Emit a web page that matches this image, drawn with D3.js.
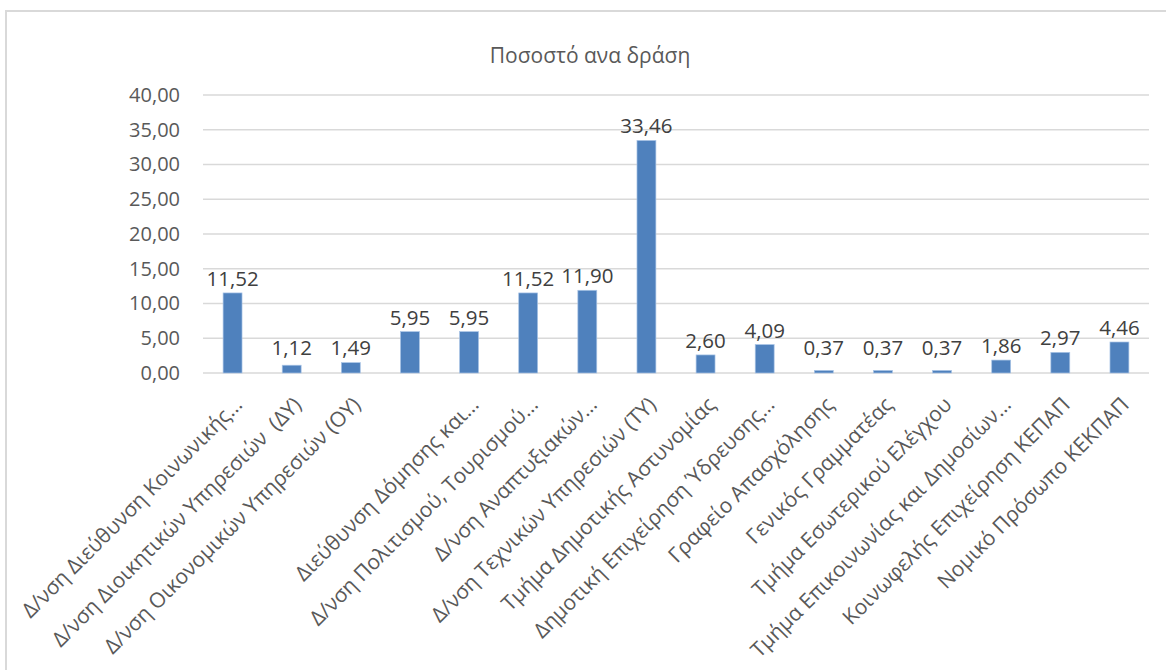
<!DOCTYPE html>
<html>
<head>
<meta charset="utf-8">
<script src="https://cdn.jsdelivr.net/npm/d3@7"></script>
<style>
	body { margin: 0; background: #fff; }
	svg text { font-family: "Open Sans", "Noto Sans", sans-serif; white-space: pre; }
</style>
</head>
<body>
<div class="container"></div>
<script>
// chart data
var title = "Ποσοστό ανα δράση";

var categories = [
	"Δ/νση Διεύθυνση Κοινωνικής…",
	"Δ/νση Διοικητικών Υπηρεσιών  (ΔΥ)",
	"Δ/νση Οικονομικών Υπηρεσιών (ΟΥ)",
	"",
	"Διεύθυνση Δόμησης και…",
	"Δ/νση Πολιτισμού, Τουρισμού…",
	"Δ/νση Αναπτυξιακών…",
	"Δ/νση Τεχνικών Υπηρεσιών (ΤΥ)",
	"Τμήμα Δημοτικής Αστυνομίας",
	"Δημοτική Επιχείρηση Ύδρευσης…",
	"Γραφείο Απασχόλησης",
	"Γενικός Γραμματέας",
	"Τμήμα Εσωτερικού Ελέγχου",
	"Τμήμα Επικοινωνίας και Δημοσίων…",
	"Κοινωφελής Επιχείρηση ΚΕΠΑΠ",
	"Νομικό Πρόσωπο ΚΕΚΠΑΠ"
];

var values = [11.52, 1.12, 1.49, 5.95, 5.95, 11.52, 11.90, 33.46,
	2.60, 4.09, 0.37, 0.37, 0.37, 1.86, 2.97, 4.46];

var yTicks = [0, 5, 10, 15, 20, 25, 30, 35, 40];

var W = 1166, H = 670;
var margin = {top: 95, right: 17, bottom: 297, left: 203},
	width = W - margin.left - margin.right,
	height = H - margin.top - margin.bottom;

// greek style numbers: 11,52
var fmt = function(v) { return v.toFixed(2).replace('.', ','); };

var svg = d3.select(".container").append('svg')
	.attr('width', W)
	.attr('height', H);

// chart frame
svg.append('rect')
	.attr('x', 6).attr('y', 11)
	.attr('width', W).attr('height', H)
	.attr('fill', 'none')
	.attr('stroke', '#d9d9d9')
	.attr('stroke-width', 2);

svg.append('text')
	.attr('x', 590).attr('y', 63)
	.attr('text-anchor', 'middle')
	.attr('fill', '#595959')
	.style('font-size', '21px')
	.text(title);

var canvas = svg.append('g')
	.attr('transform', 'translate(' + margin.left + ',' + margin.top + ')');

var x_scale = d3.scaleBand()
	.domain(d3.range(categories.length))
	.range([0, width])
	.paddingInner(0.68)
	.paddingOuter(0.34);

var y_scale = d3.scaleLinear()
	.domain([0, 40])
	.range([height, 0]);

// gridlines
canvas.append('g')
	.selectAll('line')
	.data(yTicks)
	.enter()
	.append('line')
	.attr('x1', 0).attr('x2', width)
	.attr('y1', function(d) { return y_scale(d); })
	.attr('y2', function(d) { return y_scale(d); })
	.attr('stroke', '#d9d9d9')
	.attr('stroke-width', 1.5);

// y axis, no line, only labels
var y_axis = d3.axisLeft(y_scale)
	.tickValues(yTicks)
	.tickSize(0)
	.tickPadding(23)
	.tickFormat(fmt);

var yg = canvas.append('g').call(y_axis);
yg.select('.domain').remove();
yg.selectAll('text')
	.attr('fill', '#595959')
	.style('font-size', '20px')
	.style('font-family', '"Open Sans", sans-serif');

// bars
canvas.append('g')
	.selectAll('rect')
	.data(values)
	.enter()
	.append('rect')
	.attr('x', function(d, i) { return x_scale(i); })
	.attr('y', function(d) { return y_scale(d); })
	.attr('width', x_scale.bandwidth())
	.attr('height', function(d) { return height - y_scale(d); })
	.attr('fill', '#4f81bd')
	.attr('stroke', '#a9c4e6')
	.attr('stroke-width', 0.7);

// data labels
canvas.append('g')
	.selectAll('text')
	.data(values)
	.enter()
	.append('text')
	.attr('x', function(d, i) { return x_scale(i) + x_scale.bandwidth() / 2; })
	.attr('y', function(d) { return Math.min(y_scale(d) - 7, height - 18); })
	.attr('text-anchor', 'middle')
	.attr('fill', '#404040')
	.style('font-size', '20.5px')
	.text(fmt);

// category labels, rotated
var x_axis = d3.axisBottom(x_scale)
	.tickSize(0)
	.tickFormat(function(d, i) { return categories[i]; });

var xg = canvas.append('g')
	.attr('transform', 'translate(0,' + height + ')')
	.call(x_axis);
xg.select('.domain').remove();
xg.selectAll('text')
	.attr('fill', '#595959')
	.style('font-size', '21px')
	.style('font-family', '"Open Sans", sans-serif')
	.attr('text-anchor', 'end')
	.attr('dy', null)
	.attr('y', 0)
	.attr('transform', 'translate(11,33) rotate(-45)');
</script>
</body>
</html>
